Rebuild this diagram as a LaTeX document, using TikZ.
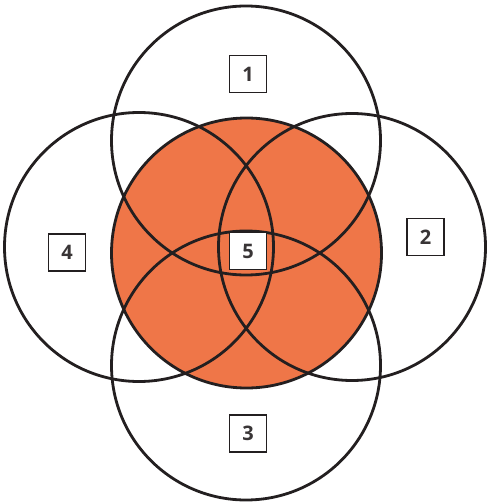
\documentclass[tikz,border=0pt]{standalone}
\usepackage{fontspec}
\setmainfont{Open Sans}
\definecolor{fillorange}{RGB}{239,118,72}
\definecolor{ink}{RGB}{35,31,32}
\tikzset{
  ring/.style={draw=ink, line width=2.8pt},
  numbox/.style={draw=ink, line width=1.3pt, fill=white, minimum width=37pt, minimum height=37pt, inner sep=0pt, font=\bfseries\fontsize{20}{20}\selectfont, text=ink!90}
}
\begin{document}
\begin{tikzpicture}[x=1pt,y=-1pt]
\useasboundingbox (0,0) rectangle (487,502);
\coordinate (cc) at (246.5,253);
\coordinate (ct) at (246,140.5);
\coordinate (cb) at (246,365.5);
\coordinate (cl) at (139,247);
\coordinate (cr) at (352,247);
\fill[fillorange] (cc) circle (135);
\draw[ring] (cc) circle (135);
\draw[ring] (ct) circle (134.5);
\draw[ring] (cb) circle (134.5);
\draw[ring] (cl) circle (134.5);
\draw[ring] (cr) circle (133.5);
\node[numbox] (n1) at (248,74) {1};
\node[numbox] (n2) at (425.5,237) {2};
\node[numbox] (n3) at (248,433.5) {3};
\node[numbox] (n4) at (67,252.5) {4};
\node[numbox] (n5) at (248,251) {5};
\end{tikzpicture}
\end{document}
